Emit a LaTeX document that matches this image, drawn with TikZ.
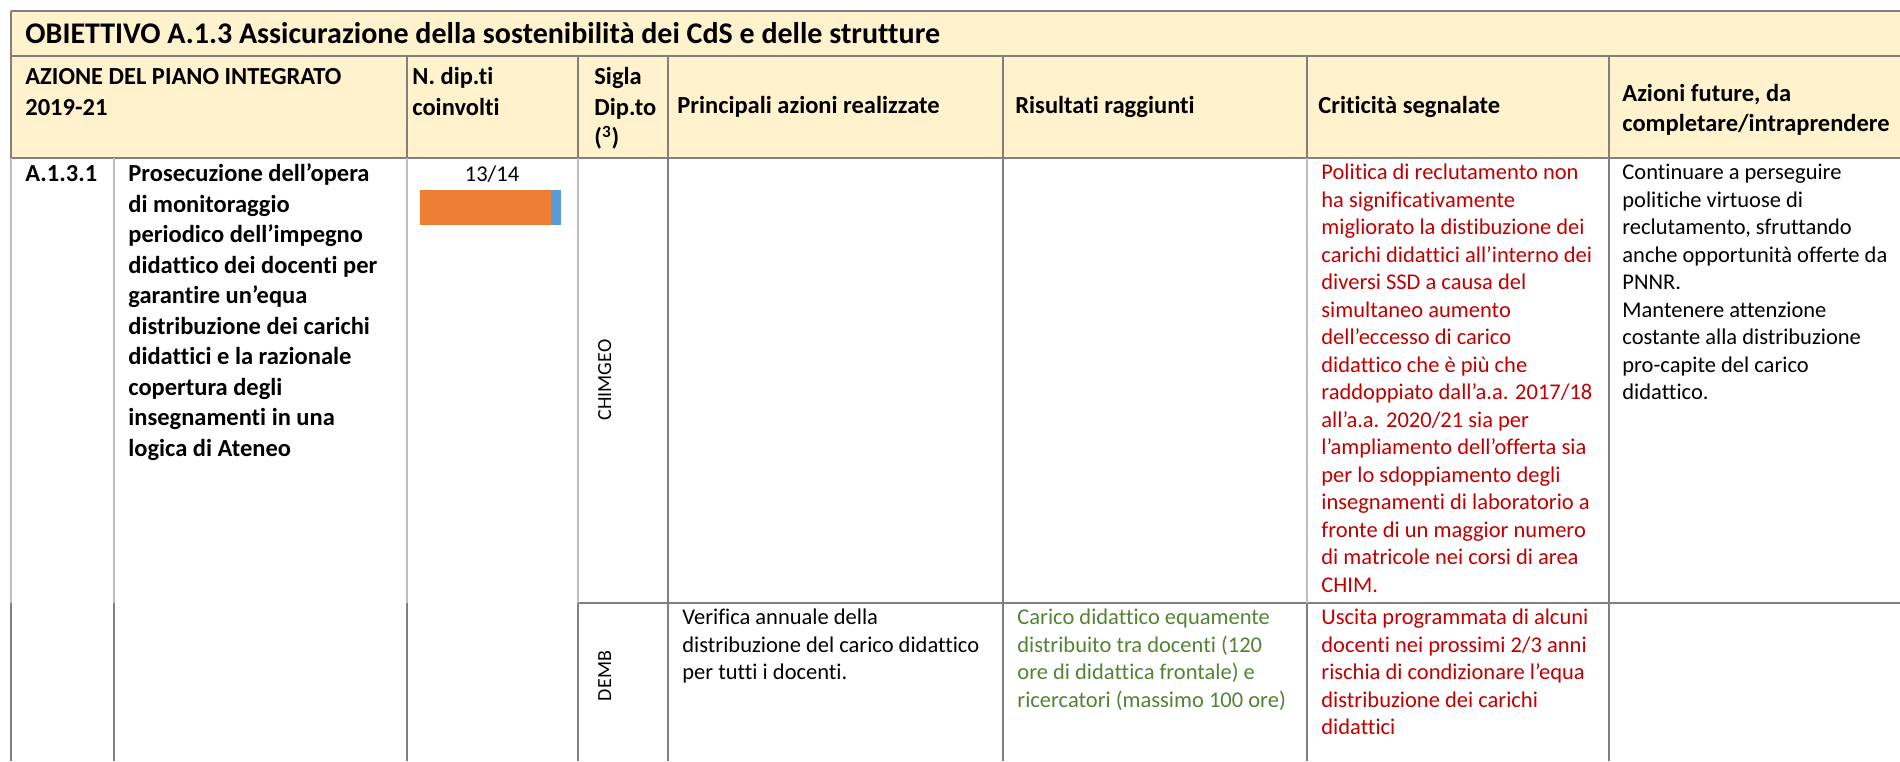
\documentclass[tikz,border=0pt]{standalone}
\usepackage{fontspec}
\setmainfont{Carlito}[Ligatures=NoCommon]
\definecolor{hdrfill}{RGB}{255,242,204}
\definecolor{gridline}{RGB}{128,128,128}
\definecolor{gridlight}{RGB}{191,191,191}
\definecolor{critred}{RGB}{192,0,0}
\definecolor{resgreen}{RGB}{84,130,53}
\definecolor{barorange}{RGB}{237,125,49}
\definecolor{barblue}{RGB}{91,155,213}
\newcommand{\txtfont}{\fontsize{11.25}{13.75}\selectfont}
\newcommand{\boldfont}{\fontsize{12.25}{15.25}\selectfont\bfseries}
\newcommand{\titlefont}{\fontsize{15}{18}\selectfont\bfseries}
\newcommand{\sidefont}{\fontsize{10}{12}\selectfont}

\begin{document}
\begin{tikzpicture}[x=0.5pt,y=-0.5pt,
  cell/.style={anchor=north west,inner sep=0pt,align=left,font=\txtfont},
  bcell/.style={anchor=north west,inner sep=0pt,align=left,font=\boldfont},
  hdr/.style={anchor=west,inner sep=0pt,align=left,font=\boldfont},
  gridrule/.style={draw=gridline,line width=1pt},
  lightrule/.style={draw=gridlight,line width=0.7pt}]
\useasboundingbox (0,0) rectangle (1900,761);
\fill[hdrfill] (11,11) rectangle (1900,158);
\draw[gridrule] (11,11) -- (1900,11);
\draw[gridrule] (11,56) -- (1900,56);
\draw[gridrule] (11,158) -- (1900,158);
\draw[gridrule] (578,603) -- (1900,603);
\draw[gridrule] (11,11) -- (11,158);
\foreach \x in {407,578,668,1003,1307,1609} \draw[gridrule] (\x,56) -- (\x,158);
\foreach \x in {11,114,407,578,1307} \draw[lightrule] (\x,158) -- (\x,603);
\foreach \x in {668,1003,1609} \draw[gridrule] (\x,158) -- (\x,603);
\foreach \x in {11,114,407,578,668,1003,1307,1609} \draw[gridrule] (\x,603) -- (\x,761);

\node[anchor=base west,inner sep=0pt,font=\titlefont] (title) at (25,43) {OBIETTIVO A.1.3 Assicurazione della sostenibilità dei CdS e delle strutture};
\node[bcell] (hazione) at (25,63) {\strut AZIONE DEL PIANO INTEGRATO\\2019-21};
\node[bcell] (hndip) at (412,63) {\strut N. dip.ti\\coinvolti};
\node[bcell] (hsigla) at (594,63) {\strut Sigla\\Dip.to\\(\textsuperscript{3})};
\node[hdr] (hprinc) at (677,107) {Principali azioni realizzate};
\node[hdr] (hris) at (1015,107) {Risultati raggiunti};
\node[hdr] (hcrit) at (1318,107) {Criticità segnalate};
\node[hdr] (hfut) at (1622,110) {Azioni future, da\\completare/intraprendere};

\node[bcell] (code) at (25,160) {\strut A.1.3.1};
\node[bcell] (azione) at (128,160) {\strut Prosecuzione dell’opera\\di monitoraggio\\periodico dell’impegno\\didattico dei docenti per\\garantire un’equa\\distribuzione dei carichi\\didattici e la razionale\\copertura degli\\insegnamenti in una\\logica di Ateneo};
\node[anchor=base,inner sep=0pt,font=\txtfont] (ndip) at (492,181) {13/14};
\fill[barorange] (420,190) rectangle (551,225);
\fill[barblue] (551,190) rectangle (561,225);

\node[rotate=90,anchor=base,inner sep=0pt,font=\sidefont] (chimgeo) at (611,380) {CHIMGEO};
\node[cell,text=critred] (critchim) at (1321,160) {\strut Politica di reclutamento non\\ha significativamente\\migliorato la distibuzione dei\\carichi didattici all’interno dei\\diversi SSD a causa del\\simultaneo aumento\\dell’eccesso di carico\\didattico che è più che\\raddoppiato dall’a.a. 2017/18\\all’a.a. 2020/21 sia per\\l’ampliamento dell’offerta sia\\per lo sdoppiamento degli\\insegnamenti di laboratorio a\\fronte di un maggior numero\\di matricole nei corsi di area\\CHIM.};
\node[cell] (futchim) at (1622,160) {\strut Continuare a perseguire\\politiche virtuose di\\reclutamento, sfruttando\\anche opportunità offerte da\\PNNR.\\Mantenere attenzione\\costante alla distribuzione\\pro-capite del carico\\didattico.};

\node[rotate=90,anchor=base,inner sep=0pt,font=\sidefont] (demb) at (611,676) {DEMB};
\node[cell] (princdemb) at (682,605) {\strut Verifica annuale della\\distribuzione del carico didattico\\per tutti i docenti.};
\node[cell,text=resgreen] (risdemb) at (1017,605) {\strut Carico didattico equamente\\distribuito tra docenti (120\\ore di didattica frontale) e\\ricercatori (massimo 100 ore)};
\node[cell,text=critred] (critdemb) at (1321,605) {\strut Uscita programmata di alcuni\\docenti nei prossimi 2/3 anni\\rischia di condizionare l’equa\\distribuzione dei carichi\\didattici};
\end{tikzpicture}
\end{document}
